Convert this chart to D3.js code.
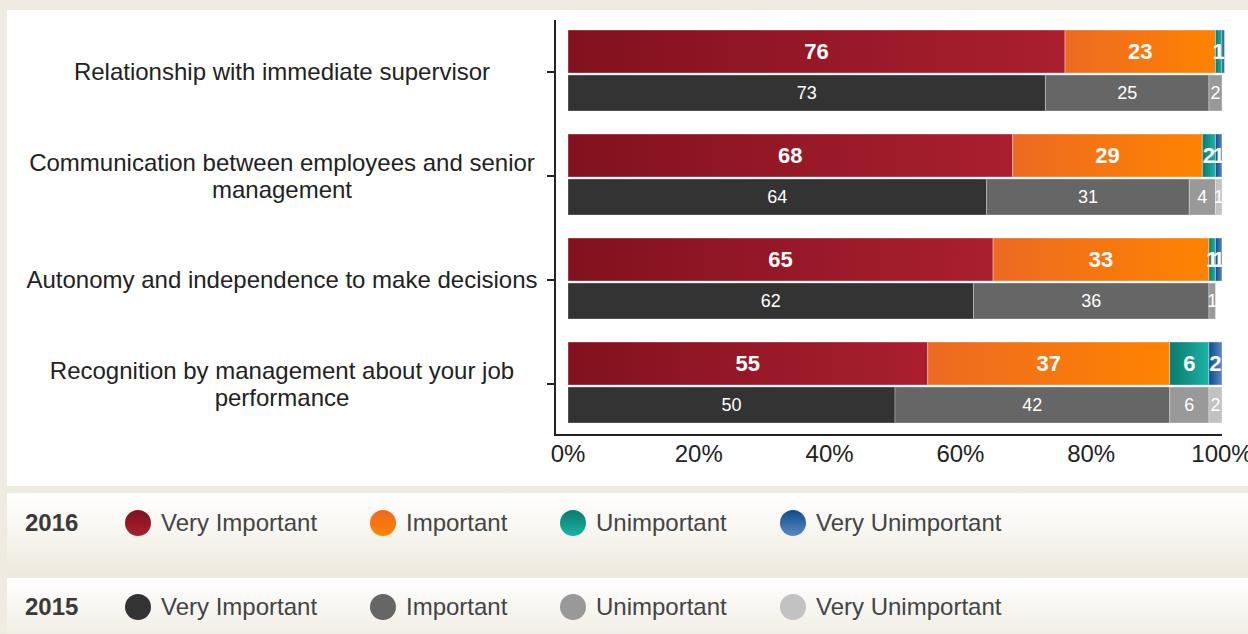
<!DOCTYPE html>
<html>
<head>
<meta charset="utf-8">
<script src="https://cdn.jsdelivr.net/npm/d3@7/dist/d3.min.js"></script>
<style>
  html, body { margin: 0; padding: 0; background: #efebe0; }
  svg { display: block; font-family: "Liberation Sans", Arial, sans-serif; }
</style>
</head>
<body>
<svg id="chart" width="1248" height="634"></svg>
<script>
// Survey factors (one per row)
const categories = [
  ["Relationship with immediate supervisor"],
  ["Communication between employees and senior", "management"],
  ["Autonomy and independence to make decisions"],
  ["Recognition by management about your job", "performance"]
];
const levels = ["Very Important", "Important", "Unimportant", "Very Unimportant"];

// Percent of respondents per level, one array per factor
const values2016 = [
  [76, 23, 1, 0.4],
  [68, 29, 2, 1],
  [65, 33, 1, 1],
  [55, 37, 6, 2]
];
const values2015 = [
  [73, 25, 2, 0],
  [64, 31, 4, 1],
  [62, 36, 1, 0],
  [50, 42, 6, 2]
];
const xTicks = [0, 20, 40, 60, 80, 100];

// Colour ramps per level: [left, right]
const colors2016 = [
  ["#82111e", "#aa1f2f"],
  ["#ec6a22", "#ff8300"],
  ["#0a7a6e", "#1ab4a5"],
  ["#0d4c8c", "#5d88c2"]
];
const colors2015 = ["#333333", "#666666", "#999999", "#c2c2c2"];

const svg = d3.select("#chart");
const defs = svg.append("defs");

// background panels
svg.append("rect").attr("x", 7).attr("y", 10).attr("width", 1241).attr("height", 476).attr("fill", "#ffffff");

const legGrad = defs.append("linearGradient").attr("id", "legBg").attr("x1", 0).attr("y1", 0).attr("x2", 0).attr("y2", 1);
legGrad.append("stop").attr("offset", "0%").attr("stop-color", "#ffffff");
legGrad.append("stop").attr("offset", "45%").attr("stop-color", "#f8f6f1");
legGrad.append("stop").attr("offset", "100%").attr("stop-color", "#ede8dc");

const legGrad2 = defs.append("linearGradient").attr("id", "legBg2").attr("x1", 0).attr("y1", 0).attr("x2", 0).attr("y2", 1);
legGrad2.append("stop").attr("offset", "0%").attr("stop-color", "#ffffff");
legGrad2.append("stop").attr("offset", "100%").attr("stop-color", "#f1eee5");

svg.append("rect").attr("x", 7).attr("y", 493).attr("width", 1241).attr("height", 84).attr("fill", "url(#legBg)");
svg.append("rect").attr("x", 7).attr("y", 578).attr("width", 1241).attr("height", 56).attr("fill", "url(#legBg2)");

// gradients for 2016 segments (horizontal for bars, vertical for legend dots)
colors2016.forEach((c, i) => {
  const g = defs.append("linearGradient").attr("id", "bar16_" + i).attr("x1", 0).attr("y1", 0).attr("x2", 1).attr("y2", 0);
  g.append("stop").attr("offset", "0%").attr("stop-color", c[0]);
  g.append("stop").attr("offset", "100%").attr("stop-color", c[1]);
  const v = defs.append("linearGradient").attr("id", "dot16_" + i).attr("x1", 0).attr("y1", 0).attr("x2", 0).attr("y2", 1);
  v.append("stop").attr("offset", "0%").attr("stop-color", c[0]);
  v.append("stop").attr("offset", "100%").attr("stop-color", c[1]);
});

// scales
const x = d3.scaleLinear().domain([0, 100]).range([568, 1222]);
const y = d3.scaleBand().domain(d3.range(categories.length)).range([20, 436]);

// axes frame (L-shape)
svg.append("path")
  .attr("d", `M555,20V435H1222`)
  .attr("fill", "none").attr("stroke", "#222").attr("stroke-width", 2);

// y ticks at band centres
svg.append("g").selectAll("line").data(d3.range(categories.length)).join("line")
  .attr("x1", 547).attr("x2", 555)
  .attr("y1", d => y(d) + y.bandwidth() / 2)
  .attr("y2", d => y(d) + y.bandwidth() / 2)
  .attr("stroke", "#222").attr("stroke-width", 2);

// category labels
const catG = svg.append("g");
categories.forEach((lines, i) => {
  const cy = y(i) + y.bandwidth() / 2;
  const lh = 27;
  const t = catG.append("text")
    .attr("text-anchor", "middle")
    .attr("font-size", 24)
    .attr("fill", "#222");
  lines.forEach((ln, j) => {
    t.append("tspan")
      .attr("x", 282)
      .attr("y", cy - (lines.length - 1) * lh / 2 + j * lh)
      .attr("dy", "0.35em")
      .text(ln);
  });
});

// x tick labels
svg.append("g").selectAll("text").data(xTicks).join("text")
  .attr("x", d => x(d))
  .attr("y", 454)
  .attr("dy", "0.35em")
  .attr("text-anchor", "middle")
  .attr("font-size", 24)
  .attr("fill", "#222")
  .text(d => d + "%");

// stacked bars
function stackRow(vals) {
  let acc = 0;
  return vals.map((v, k) => { const s = acc; acc += v; return { k, v, x0: s, x1: acc }; });
}

const rows = svg.append("g");
categories.forEach((_, i) => {
  const cy = y(i) + y.bandwidth() / 2;
  const top16 = cy - 42, h16 = 43;
  const top15 = cy + 3, h15 = 36;

  const s16 = stackRow(values2016[i]).filter(d => d.v > 0);
  const s15 = stackRow(values2015[i]).filter(d => d.v > 0);

  const g16 = rows.append("g");
  g16.selectAll("rect").data(s16).join("rect")
    .attr("x", d => x(d.x0)).attr("y", top16)
    .attr("width", d => x(d.x1) - x(d.x0)).attr("height", h16)
    .attr("fill", d => `url(#bar16_${d.k})`)
    .attr("stroke", "rgba(255,255,255,0.35)").attr("stroke-width", 1);
  g16.selectAll("text").data(s16.filter(d => d.v >= 1)).join("text")
    .attr("x", d => (x(d.x0) + x(d.x1)) / 2)
    .attr("y", top16 + h16 / 2)
    .attr("dy", "0.35em")
    .attr("text-anchor", "middle")
    .attr("font-size", 22).attr("font-weight", "bold")
    .attr("fill", "#ffffff")
    .text(d => d.v);

  const g15 = rows.append("g");
  g15.selectAll("rect").data(s15).join("rect")
    .attr("x", d => x(d.x0)).attr("y", top15)
    .attr("width", d => x(d.x1) - x(d.x0)).attr("height", h15)
    .attr("fill", d => colors2015[d.k])
    .attr("stroke", "rgba(255,255,255,0.3)").attr("stroke-width", 1);
  g15.selectAll("text").data(s15.filter(d => d.v >= 1)).join("text")
    .attr("x", d => (x(d.x0) + x(d.x1)) / 2)
    .attr("y", top15 + h15 / 2)
    .attr("dy", "0.35em")
    .attr("text-anchor", "middle")
    .attr("font-size", 18)
    .attr("fill", "#ffffff")
    .text(d => d.v);
});

// legends
const legendX = [138, 383, 573, 793];
function legendRow(cy, year, fillFn) {
  const g = svg.append("g");
  g.append("text").attr("x", 25).attr("y", cy).attr("dy", "0.35em")
    .attr("font-size", 24).attr("font-weight", "bold").attr("fill", "#3a3a3a").text(year);
  const items = g.selectAll("g.item").data(levels).join("g").attr("class", "item");
  items.append("circle").attr("cx", (d, i) => legendX[i]).attr("cy", cy).attr("r", 13)
    .attr("fill", (d, i) => fillFn(i));
  items.append("text").attr("x", (d, i) => legendX[i] + 23).attr("y", cy).attr("dy", "0.35em")
    .attr("font-size", 24).attr("fill", "#444").text(d => d);
}
legendRow(523, "2016", i => `url(#dot16_${i})`);
legendRow(607, "2015", i => colors2015[i]);
</script>
</body>
</html>
